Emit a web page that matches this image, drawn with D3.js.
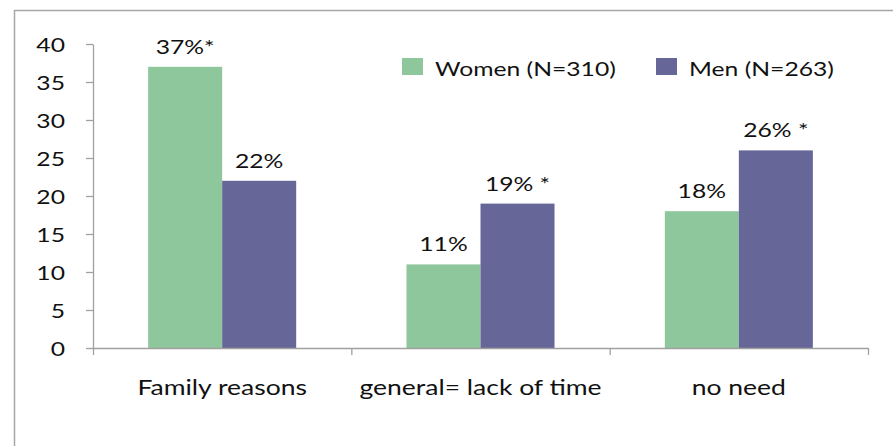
<!DOCTYPE html>
<html><head><meta charset="utf-8">
<script src="https://cdn.jsdelivr.net/npm/d3@7"></script>
<style>body{margin:0;background:#fff}svg{display:block}text{font-family:Lato,"Open Sans",sans-serif;fill:#111}</style>
</head><body><svg id="c" width="893" height="446"></svg>
<script>
const categories = ["Family reasons", "general= lack of time", "no need"];
const seriesNames = ["Women (N=310)", "Men (N=263)"];
const women = [37, 11, 18];
const men = [22, 19, 26];
const womenLabels = ["37%*", "11%", "18%"];
const menLabels = ["22%", "19% *", "26% *"];
const yTicks = [0, 5, 10, 15, 20, 25, 30, 35, 40];
const colors = ["#8ec79c", "#666699"];

const SX = 1.3, FS = 19;
const svg = d3.select("#c");
svg.append("rect").attr("x",14.5).attr("y",10.5).attr("width",950).attr("height",500)
  .attr("fill","none").attr("stroke","#a6a6a6").attr("stroke-width",1.5);

const y = d3.scaleLinear().domain([0,40]).range([348,44]);
const x0 = d3.scaleBand().domain(categories).range([93,868]).padding(0);
const x1 = d3.scaleBand().domain(seriesNames).range([0,x0.bandwidth()]).paddingInner(0).paddingOuter(0.745);
const vals = [women, men], labs = [womenLabels, menLabels];

function stext(g, x, yy, str, anchor, fs){
  return g.append("text").attr("transform",`translate(${x},${yy}) scale(${SX},1)`)
    .attr("text-anchor",anchor||"middle").attr("font-size",fs||FS).text(str);
}

// bars
seriesNames.forEach((s,si)=>{
  categories.forEach((c,ci)=>{
    svg.append("rect").attr("x",x0(c)+x1(s)).attr("y",y(vals[si][ci]))
      .attr("width",x1.bandwidth()).attr("height",y(0)-y(vals[si][ci])).attr("fill",colors[si]);
    stext(svg, x0(c)+x1(s)+x1.bandwidth()/2, y(vals[si][ci])-13, labs[si][ci]);
  });
});

// y axis
const ya = svg.append("g").attr("transform","translate(93,0)")
  .call(d3.axisLeft(y).tickValues(yTicks).tickSize(7).tickSizeOuter(0).tickFormat(""));
ya.selectAll("path,line").attr("stroke","#a0a0a0").attr("stroke-width",1.3);
yTicks.forEach(t=> stext(svg, 65, y(t)+8, String(t), "end"));

// x axis
const xa = svg.append("g").attr("transform","translate(0,348)")
  .call(d3.axisBottom(d3.scaleLinear().domain([0,3]).range([93,868])).tickValues([0,1,2,3]).tickSize(7).tickSizeOuter(0).tickFormat(""));
xa.selectAll("path,line").attr("stroke","#a0a0a0").attr("stroke-width",1.3);
categories.forEach(c=> stext(svg, x0(c)+x0.bandwidth()/2, 395, c, "middle", 20.4));

// legend
const legX = [402, 656];
seriesNames.forEach((s,i)=>{
  svg.append("rect").attr("x",legX[i]).attr("y",58).attr("width",21).attr("height",17).attr("fill",colors[i]);
  stext(svg, legX[i]+33, 76, s, "start");
});
</script></body></html>
